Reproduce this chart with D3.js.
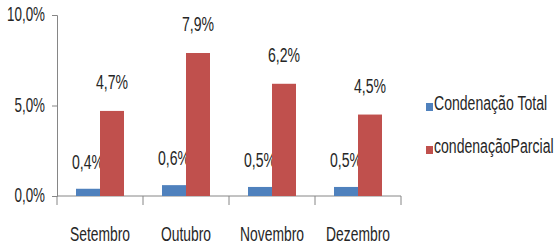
<!DOCTYPE html>
<html>
<head>
<meta charset="utf-8">
<script src="https://cdn.jsdelivr.net/npm/d3@7"></script>
<style>
  body { margin: 0; background: #fff; }
  text { font-family: "Liberation Sans", Arial, sans-serif; fill: #262626; }
</style>
</head>
<body>
<div id="chart"></div>
<script>
// data
var months = ["Setembro", "Outubro", "Novembro", "Dezembro"];
var seriesNames = ["Condenação Total", "condenaçãoParcial"];
var total = [0.4, 0.6, 0.5, 0.5];
var parcial = [4.7, 7.9, 6.2, 4.5];
var yTicks = [0, 5, 10];
var colors = ["#4F81BD", "#C0504D"];

var width = 559, height = 250;
var svg = d3.select("#chart").append("svg")
  .attr("width", width)
  .attr("height", height);

var x = d3.scaleBand().domain(months).range([57, 401]);
var inner = d3.scaleBand().domain([0, 1]).range([19, x.bandwidth() - 19]);
var y = d3.scaleLinear().domain([0, 10]).range([196, 15]);

var fmt = function(v) { return d3.format(".1f")(v).replace(".", ",") + "%"; };

// tall, squeezed text like the original picture
function narrow(sel, size, sx) {
  sel.attr("font-size", size)
    .attr("transform", function() {
      var t = d3.select(this);
      return "translate(" + t.attr("data-x") + "," + t.attr("data-y") + ") scale(" + sx + ",1)";
    });
}

// y axis
var yAxis = svg.append("g").attr("transform", "translate(57,0)")
  .call(d3.axisLeft(y).tickValues(yTicks).tickSize(5).tickFormat(""));
yAxis.select(".domain").attr("stroke", "#868686");
yAxis.selectAll(".tick line").attr("stroke", "#868686");
svg.append("g").selectAll("text").data(yTicks).enter().append("text")
  .attr("data-x", 45)
  .attr("data-y", function(d) { return y(d) + 6; })
  .attr("text-anchor", "end")
  .text(function(d) { return fmt(d); })
  .call(narrow, 20, 0.67);

// x axis
var xAxis = svg.append("g").attr("transform", "translate(0,196)");
xAxis.append("line").attr("x1", 57).attr("x2", 401).attr("stroke", "#868686");
xAxis.selectAll("line.tk").data(months.concat([null])).enter().append("line")
  .attr("class", "tk")
  .attr("x1", function(d, i) { return i < months.length ? x(d) : x.range()[1]; })
  .attr("x2", function(d, i) { return i < months.length ? x(d) : x.range()[1]; })
  .attr("y1", 0).attr("y2", 9).attr("stroke", "#868686");
svg.append("g").selectAll("text").data(months).enter().append("text")
  .attr("data-x", function(d) { return x(d) + x.bandwidth() / 2; })
  .attr("data-y", 241)
  .attr("text-anchor", "middle")
  .text(function(d) { return d; })
  .call(narrow, 21, 0.66);

// bars
var series = [total, parcial];
series.forEach(function(vals, s) {
  var g = svg.append("g");
  g.selectAll("rect").data(vals).enter().append("rect")
    .attr("x", function(d, i) { return x(months[i]) + inner(s); })
    .attr("width", inner.bandwidth())
    .attr("y", function(d) { return y(d); })
    .attr("height", function(d) { return y(0) - y(d); })
    .attr("fill", colors[s]);
  g.selectAll("text").data(vals).enter().append("text")
    .attr("data-x", function(d, i) { return x(months[i]) + inner(s) + inner.bandwidth() / 2; })
    .attr("data-y", function(d) { return y(d) - (s === 0 ? 20 : 22); })
    .attr("text-anchor", "middle")
    .text(function(d) { return fmt(d); })
    .call(narrow, 21, 0.67);
});

// legend
var legend = svg.append("g");
seriesNames.forEach(function(n, i) {
  var ly = 107 + i * 43;
  legend.append("rect").attr("x", 426).attr("y", ly - 4).attr("width", 7).attr("height", 8).attr("fill", colors[i]);
  legend.append("text").attr("data-x", 434).attr("data-y", ly + 3)
    .text(n)
    .call(narrow, 21, 0.67);
});
</script>
</body>
</html>
